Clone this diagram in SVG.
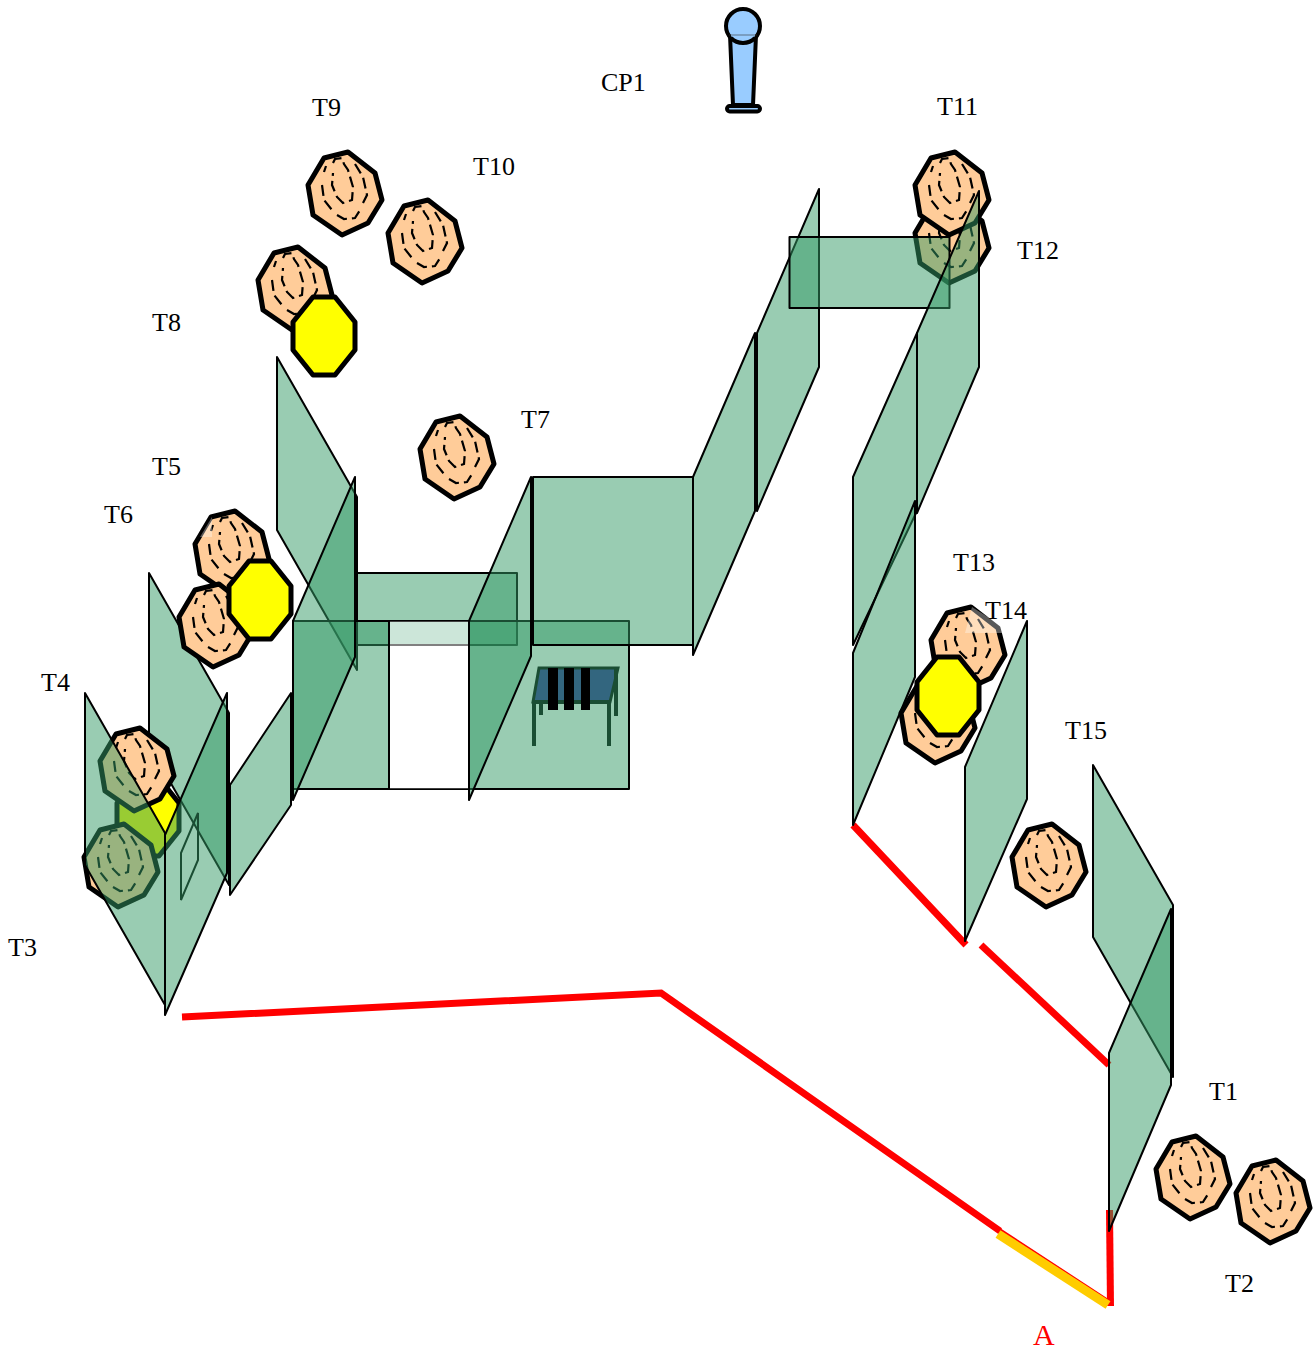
<svg xmlns="http://www.w3.org/2000/svg" width="1314" height="1349" viewBox="0 0 1314 1349">
<style>
.p{fill:#339966;fill-opacity:.5;stroke:#000;stroke-width:2;stroke-linejoin:round}
.oct{fill:#ffcc99;stroke:#000;stroke-width:5;stroke-linejoin:round}
.ring{fill:none;stroke:#000;stroke-width:2.200;stroke-dasharray:11 5}
.yel{fill:#ff0;stroke:#000;stroke-width:5;stroke-linejoin:round}
.red{fill:none;stroke:#f00;stroke-width:7}
.lab{font-family:"Liberation Serif","Times New Roman",serif;font-size:26px;fill:#000}
.leg{fill:none;stroke:#000;stroke-width:4}
.patch{fill:#fff;fill-opacity:.35}
</style>
<defs>
<g id="tree">
<polygon class="oct" points="-36,-8 -20,-35 4,-41 31,-20 38,7 24,30 -2,42 -31,22"/>
<path class="ring" d="M-11,-30 L-9,-34 -2,-35 0,-29 4,-23 9,-6 8,7 -1,10 -7,4 -12,-8 -11,-20"/>
<path class="ring" d="M-20,-21 L-18,-27 M-22,-8 L-20,7 -12,17 M11,-29 L19,-16 23,2 19,10 M-7,22 L0,26 11,25 16,17"/>
</g>
<polygon id="stop" class="yel" points="-11,-39 11,-39 31,-14 31,14 11,39 -11,39 -31,14 -31,-14"/>
</defs>

<g id="connectors">
<polyline class="red" points="182,1017 661,993 1000,1231"/>
<polygon points="995,1225 1000,1228 1110,1300 1110,1306 1000,1238" fill="#f00"/>
<line class="red" x1="1109.500" y1="1210" x2="1110.500" y2="1306"/>
<line x1="998" y1="1234" x2="1108" y2="1305" stroke="#ffcc00" stroke-width="9"/>
<line class="red" x1="853" y1="825" x2="966" y2="945"/>
<line class="red" x1="981" y1="945" x2="1109" y2="1065"/>
</g>

<g id="panel-back-3"><polygon class="p" points="149,573 229,713 229,885 149,745"/></g>
<g id="frame-small"><polygon fill="none" stroke="#000" stroke-width="2" points="181,900 181,853 198,813 198,860"/></g>
<g id="panel-4"><polygon class="p" points="230,785 291,693 291,805 230,895"/></g>
<g id="panel-8"><polygon class="p" points="277,357 357,497 357,670 277,530"/></g>
<g id="panel-back"><rect class="p" x="357" y="573" width="160" height="72"/></g>
<g id="table">
<polygon points="539,668 618,668 610,702 533,702" fill="#333399" stroke="#000" stroke-width="3"/>
<path class="leg" d="M534,702V746M609,702V746M541,703V715M616,668V716M533,702H610"/>
</g>
<g id="wall">
<path class="p" d="M293,621H629V789H293ZM389,621V789H469V621Z" fill-rule="evenodd"/>
<rect x="389" y="621" width="80" height="168" fill="#fff" fill-opacity=".5" stroke="#000" stroke-opacity=".5" stroke-width="2"/>
<path d="M389,621V789M469,621V789" stroke="#000" stroke-width="2"/>
</g>
<g id="bars"><path d="M548,668h10v42h-10zM564,668h10v42h-10zM581,668h9v42h-9z" fill="#000"/></g>
<g id="panel-7"><polygon class="p" points="293,800 293,621 355,477 355,657"/></g>
<g id="panel-9"><polygon class="p" points="469,800 469,621 531,477 531,656"/></g>
<g id="panel-10"><rect class="p" x="533" y="477" width="160" height="168"/></g>
<g id="panel-11"><polygon class="p" points="693,655 693,477 755,333 755,511"/></g>
<g id="panel-12"><polygon class="p" points="757,511 757,333 819,189 819,367"/></g>

<g id="T12"><use href="#tree" x="951" y="241"/></g>
<g id="T11"><use href="#tree" x="951" y="193"/></g>
<g id="panel-13"><rect class="p" x="789.500" y="237" width="160" height="71"/></g>
<g id="panel-14"><polygon class="p" points="917,513 917,333 979,191 979,367"/></g>
<g id="panel-15"><polygon class="p" points="853,645 853,477 917,333 917,511"/></g>
<g id="panel-16"><polygon class="p" points="853,825 853,653 915,501 915,677"/></g>
<g id="panel-17"><polygon class="p" points="965,941 965,767 1027,621 1027,799"/></g>
<g id="panel-18"><polygon class="p" points="1093,765 1173,905 1173,1077 1093,937"/></g>
<g id="panel-19"><polygon class="p" points="1109,1231 1109,1053 1171,909 1171,1085"/></g>

<g id="T9"><use href="#tree" x="344" y="193"/></g>
<g id="T10"><use href="#tree" x="424" y="241"/></g>
<g id="T8"><use href="#tree" x="294" y="288"/></g>
<g id="stop-1"><use href="#stop" x="324" y="336"/></g>
<g id="T7"><use href="#tree" x="456" y="457"/></g>
<g id="T5"><use href="#tree" x="231" y="552"/><polygon class="patch" points="212,517 200,537 212,537"/></g>
<g id="T6"><use href="#tree" x="215" y="625"/></g>
<g id="stop-2"><use href="#stop" x="260" y="600"/></g>
<g id="T15"><use href="#tree" x="1048" y="865"/></g>
<g id="T13"><use href="#tree" x="967" y="648"/><polygon class="patch" points="972,607 965,633 1002,633 1002,626"/></g>
<g id="T14"><use href="#tree" x="937" y="721"/></g>
<g id="stop-3"><use href="#stop" x="948" y="696"/></g>
<g id="T1"><use href="#tree" x="1192" y="1177"/></g>
<g id="T2"><use href="#tree" x="1272" y="1201"/></g>
<g id="stop-4"><use href="#stop" x="148" y="817"/></g>
<g id="T3"><use href="#tree" x="120" y="865"/></g>
<g id="T4"><use href="#tree" x="136" y="769"/></g>
<g id="panel-1"><polygon class="p" points="85,693 165,833 165,1005 85,865"/></g>
<g id="panel-2"><polygon class="p" points="165,1015 165,835 227,693 227,873"/></g>

<g id="CP1-mic">
<path d="M730,35L733,105H753L756,35Z" fill="#99ccff" stroke="#000" stroke-width="4"/>
<circle cx="743" cy="26" r="17" fill="#99ccff" stroke="#000" stroke-width="4"/>
<path d="M731,35H755" stroke="#99ccff" stroke-width="3"/>
<path d="M729,35H757" stroke="#333" stroke-width=".6"/>
<rect x="727" y="106" width="33" height="5.500" rx="2.700" fill="#99ccff" stroke="#000" stroke-width="4"/>
</g>

<g id="labels">
<text class="lab" x="312" y="116">T9</text>
<text class="lab" x="601" y="91">CP1</text>
<text class="lab" x="473" y="175">T10</text>
<text class="lab" x="937" y="115">T11</text>
<text class="lab" x="1017" y="259">T12</text>
<text class="lab" x="152" y="331">T8</text>
<text class="lab" x="521" y="428">T7</text>
<text class="lab" x="152" y="475">T5</text>
<text class="lab" x="104" y="523">T6</text>
<text class="lab" x="41" y="691">T4</text>
<text class="lab" x="8" y="956">T3</text>
<text class="lab" x="953" y="571">T13</text>
<text class="lab" x="985" y="619">T14</text>
<text class="lab" x="1065" y="739">T15</text>
<text class="lab" x="1209" y="1100">T1</text>
<text class="lab" x="1225" y="1292">T2</text>
<text class="lab" x="1033" y="1345" style="font-size:30px;fill:#f00">A</text>
</g>
</svg>
